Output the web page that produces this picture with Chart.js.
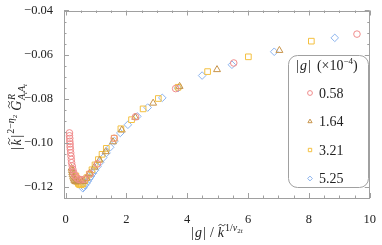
<!DOCTYPE html>
<html>
<head>
<meta charset="utf-8">
<script src="https://cdn.jsdelivr.net/npm/chart.js@4.4.1/dist/chart.umd.min.js"></script>
<style>
  html, body { margin: 0; padding: 0; background: #fff; }
  #wrap { width: 382px; height: 245px; }
</style>
</head>
<body>
<div id="wrap"><canvas id="chart"></canvas></div>
<script>
// legend entries, |g| in units of 1e-4
const groups = ['0.58', '1.64', '3.21', '5.25'];

const redX = [0.13, 0.13, 0.14, 0.14, 0.15, 0.15, 0.16, 0.17, 0.18, 0.19, 0.20, 0.22, 0.24, 0.27, 0.31, 0.36, 0.42, 0.50, 0.62, 0.80, 1.05, 1.60, 2.30, 3.62, 5.53, 9.58];
const redY = [-0.0955, -0.0968, -0.0980, -0.0993, -0.1005, -0.1018, -0.1030, -0.1045, -0.1060, -0.1075, -0.1090, -0.1105, -0.1120, -0.1135, -0.1148, -0.1158, -0.1165, -0.1168, -0.1165, -0.1140, -0.1095, -0.0979, -0.0882, -0.0754, -0.0638, -0.0507];

const triX = [0.20, 0.21, 0.22, 0.23, 0.25, 0.27, 0.29, 0.32, 0.35, 0.39, 0.44, 0.50, 0.58, 0.68, 0.80, 0.95, 1.12, 1.32, 1.56, 1.85, 2.29, 2.88, 3.75, 4.98, 7.03];
const triY = [-0.1115, -0.1125, -0.1135, -0.1145, -0.1155, -0.1163, -0.1170, -0.1175, -0.1177, -0.1176, -0.1172, -0.1168, -0.1175, -0.1160, -0.1138, -0.1110, -0.1078, -0.1040, -0.0995, -0.0942, -0.0884, -0.0820, -0.0744, -0.0668, -0.0581];

const sqX = [0.34, 0.36, 0.38, 0.40, 0.42, 0.45, 0.48, 0.52, 0.57, 0.63, 0.70, 0.78, 0.87, 0.97, 1.08, 1.20, 1.34, 1.60, 1.82, 2.17, 2.55, 3.05, 3.70, 4.67, 6.01, 8.08];
const sqY = [-0.1150, -0.1160, -0.1170, -0.1178, -0.1184, -0.1188, -0.1190, -0.1190, -0.1185, -0.1172, -0.1158, -0.1142, -0.1122, -0.1100, -0.1076, -0.1052, -0.1025, -0.0979, -0.0936, -0.0895, -0.0846, -0.0799, -0.0748, -0.0677, -0.0610, -0.0539];

const diaX = [0.57, 0.60, 0.64, 0.68, 0.73, 0.78, 0.84, 0.90, 0.97, 1.05, 1.14, 1.24, 1.35, 1.47, 1.61, 1.80, 2.05, 2.36, 2.70, 3.18, 3.70, 4.49, 5.47, 6.86, 8.85];
const diaY = [-0.1206, -0.1200, -0.1192, -0.1184, -0.1174, -0.1163, -0.1151, -0.1138, -0.1124, -0.1107, -0.1088, -0.1067, -0.1045, -0.1020, -0.0992, -0.0955, -0.0918, -0.0880, -0.0840, -0.0796, -0.0752, -0.0695, -0.0646, -0.0587, -0.0524];

const xTicks = [0, 2, 4, 6, 8, 10];
const yTicks = [-0.12, -0.10, -0.08, -0.06, -0.04];

const SERIF = '"Liberation Serif", "DejaVu Serif", serif';
const FRAME = '#a0a0a0';

function pts(xs, ys) {
  return xs.map((x, i) => ({ x: x, y: ys[i] }));
}

const datasets = [
  { label: groups[0], data: pts(redX, redY), pointStyle: 'circle', pointRadius: 3.3, borderColor: '#f08c8c' },
  { label: groups[1], data: pts(triX, triY), pointStyle: 'triangle', pointRadius: 4, borderColor: '#c8944a' },
  { label: groups[2], data: pts(sqX, sqY), pointStyle: 'rect', pointRadius: 4, borderColor: '#f4c040' },
  { label: groups[3], data: pts(diaX, diaY), pointStyle: 'rectRot', pointRadius: 3.8, borderColor: '#8cb4ee' }
].map(d => Object.assign(d, {
  backgroundColor: 'rgba(0,0,0,0)',
  pointBorderWidth: 1,
  showLine: false
}));

// draws a run of text pieces (italic, sub/superscripts, tildes)
function richText(ctx, segs, x, y, rotate) {
  let cur = 0, prevStart = 0, maxEnd = 0;
  const placed = segs.map(s => {
    ctx.font = (s.it ? 'italic ' : '') + s.size + 'px ' + SERIF;
    const w = ctx.measureText(s.t).width;
    const sx = s.stack ? prevStart : cur + (s.gap || 0);
    cur = sx + w;
    prevStart = sx;
    maxEnd = Math.max(maxEnd, cur);
    return Object.assign({}, s, { x: sx, w: w });
  });
  ctx.save();
  ctx.translate(x, y);
  if (rotate) ctx.rotate(-Math.PI / 2);
  ctx.translate(-maxEnd / 2, 0);
  ctx.fillStyle = '#222';
  ctx.strokeStyle = '#222';
  ctx.textBaseline = 'alphabetic';
  ctx.textAlign = 'left';
  placed.forEach(s => {
    ctx.font = (s.it ? 'italic ' : '') + s.size + 'px ' + SERIF;
    ctx.fillText(s.t, s.x, s.dy || 0);
    if (s.tilde) {
      const cx = s.x + s.w / 2 + 1;
      const ty = (s.dy || 0) - s.size * 0.86;
      const hw = s.size * 0.24;
      ctx.lineWidth = 0.9;
      ctx.beginPath();
      ctx.moveTo(cx - hw, ty + 0.8);
      ctx.bezierCurveTo(cx - hw / 2, ty - 1.6, cx, ty + 0.2, cx, ty + 0.2);
      ctx.bezierCurveTo(cx, ty + 0.2, cx + hw / 2, ty + 1.8, cx + hw, ty - 0.8);
      ctx.stroke();
    }
  });
  ctx.restore();
}

const yTitle = [
  { t: '|', size: 15, gap: 0 },
  { t: 'k', size: 14, it: true, tilde: true, gap: 1.5 },
  { t: '|', size: 15, gap: 1.5 },
  { t: '2\u2212', size: 10, dy: -7, gap: 1 },
  { t: '\u03b7', size: 10, it: true, dy: -7 },
  { t: '2', size: 7, dy: -4.5 },
  { t: 'G', size: 14, it: true, tilde: true, gap: 4 },
  { t: 'R', size: 10, it: true, dy: -6, gap: 0.5 },
  { t: 'A', size: 10, it: true, dy: 4, stack: true },
  { t: 't', size: 7, it: true, dy: 6 },
  { t: 'A', size: 10, it: true, dy: 4 },
  { t: 't', size: 7, it: true, dy: 6 }
];

const xTitle = [
  { t: '|', size: 14 },
  { t: 'g', size: 14, it: true, gap: 1 },
  { t: '|', size: 14, gap: 1 },
  { t: '/', size: 14, gap: 4 },
  { t: 'k', size: 14, it: true, tilde: true, gap: 4 },
  { t: '1/', size: 10, dy: -6, gap: 1 },
  { t: '\u03bd', size: 10, it: true, dy: -6 },
  { t: '2', size: 7, dy: -4 },
  { t: 't', size: 7, it: true, dy: -4 }
];

const framePlugin = {
  id: 'frame',
  afterDraw(chart) {
    const ctx = chart.ctx;
    const a = chart.chartArea;
    const xs = chart.scales.x, ys = chart.scales.y;
    ctx.save();
    ctx.strokeStyle = FRAME;
    ctx.lineWidth = 1;
    ctx.strokeRect(Math.round(a.left) + 0.5, Math.round(a.top) + 0.5, Math.round(a.right - a.left) - 1, Math.round(a.bottom - a.top) - 1);

    // inward ticks on all four sides
    ctx.beginPath();
    for (let i = 0; i <= 20; i++) {
      const v = i * 0.5;
      const len = i % 4 === 0 ? 5 : 2.5;
      const px = Math.round(xs.getPixelForValue(v)) + 0.5;
      ctx.moveTo(px, a.bottom); ctx.lineTo(px, a.bottom - len);
      ctx.moveTo(px, a.top); ctx.lineTo(px, a.top + len);
    }
    for (let i = 0; i <= 16; i++) {
      const v = -0.12 + i * 0.005;
      const len = i % 4 === 0 ? 5 : 2.5;
      const py = Math.round(ys.getPixelForValue(v)) + 0.5;
      ctx.moveTo(a.left, py); ctx.lineTo(a.left + len, py);
      ctx.moveTo(a.right, py); ctx.lineTo(a.right - len, py);
    }
    ctx.stroke();
    ctx.restore();

    richText(ctx, yTitle, 21, 117, true);
    richText(ctx, xTitle, 217, 237, false);

    // legend box
    const bx = 288, by = 55, bw = 80, bh = 132;
    ctx.save();
    ctx.fillStyle = '#fff';
    ctx.strokeStyle = FRAME;
    ctx.lineWidth = 1;
    ctx.beginPath();
    ctx.roundRect(bx + 0.5, by + 0.5, bw, bh, 9);
    ctx.fill();
    ctx.stroke();
    ctx.restore();

    richText(ctx, [
      { t: '|', size: 14 },
      { t: 'g', size: 14, it: true, gap: 1 },
      { t: '|', size: 14, gap: 1 },
      { t: '(\u00d710', size: 14, gap: 6 },
      { t: '\u22124', size: 9, dy: -6 },
      { t: ')', size: 14 }
    ], 327, 70, false);

    chart.data.datasets.forEach((d, i) => {
      const y = 93 + i * 28.5;
      ctx.save();
      ctx.strokeStyle = d.borderColor;
      ctx.fillStyle = 'rgba(0,0,0,0)';
      ctx.lineWidth = 1;
      Chart.helpers.drawPoint(ctx, { pointStyle: d.pointStyle, radius: 2.4, rotation: 0, borderWidth: 1 }, 310, y);
      ctx.restore();
      ctx.save();
      ctx.fillStyle = '#222';
      ctx.font = '14px ' + SERIF;
      ctx.textBaseline = 'middle';
      ctx.fillText(d.label, 319, y + 1);
      ctx.restore();
    });
  }
};

new Chart(document.getElementById('chart'), {
  type: 'scatter',
  data: { datasets: datasets },
  options: {
    responsive: true,
    maintainAspectRatio: false,
    animation: false,
    devicePixelRatio: 1,
    layout: { padding: { top: 7, right: 10, left: 0, bottom: 0 } },
    plugins: { legend: { display: false }, tooltip: { enabled: false } },
    scales: {
      x: {
        type: 'linear',
        min: -0.05,
        max: 10,
        grid: { display: false },
        border: { display: false },
        afterBuildTicks: s => { s.ticks = xTicks.map(v => ({ value: v })); },
        afterFit: s => { s.height = 47; },
        ticks: { color: '#222', padding: 6, font: { family: SERIF, size: 12.5 }, callback: v => String(v) }
      },
      y: {
        type: 'linear',
        min: -0.125,
        max: -0.04,
        grid: { display: false },
        border: { display: false },
        afterBuildTicks: s => { s.ticks = yTicks.map(v => ({ value: v })); },
        afterFit: s => { s.width = 64; },
        ticks: { color: '#222', padding: 3, font: { family: SERIF, size: 12.5 }, callback: v => '\u2212' + Math.abs(v).toFixed(2) }
      }
    }
  },
  plugins: [framePlugin]
});
</script>
</body>
</html>
